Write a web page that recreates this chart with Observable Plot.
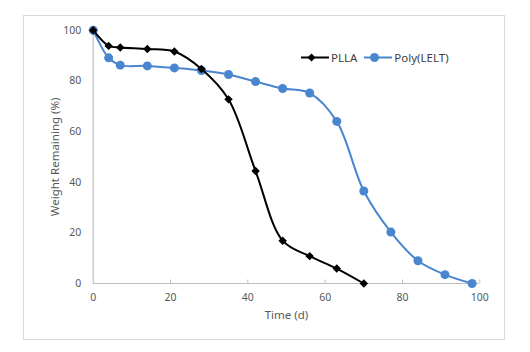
<!DOCTYPE html>
<html>
<head>
<meta charset="utf-8">
<script src="https://cdn.jsdelivr.net/npm/d3@7"></script>
<script src="https://cdn.jsdelivr.net/npm/@observablehq/plot@0.6"></script>
<style>
  html, body { margin: 0; padding: 0; background: #fff; }
  #wrap { position: relative; width: 530px; height: 352px; font-family: "Noto Sans", sans-serif; }
  #border { position: absolute; left: 23px; top: 15px; width: 480px; height: 323px; border: 1px solid #d9d9d9; pointer-events: none; }
  #legend { position: absolute; left: 301px; top: 50px; display: flex; align-items: center; font-size: 11.5px; color: #404040; }
  #legend .item { display: flex; align-items: center; margin-right: 7px; }
  #legend svg { margin-right: 2px; }
</style>
</head>
<body>
<div id="wrap">
  <div id="chart"></div>
  <div id="border"></div>
  <div id="legend"></div>
</div>
<script>
const days = [0, 4, 7, 14, 21, 28, 35, 42, 49, 56, 63, 70, 77, 84, 91, 98];
const pllaDays = [0, 4, 7, 14, 21, 28, 35, 42, 49, 56, 63, 70];
const pllaValues = [100, 93.8, 93.2, 92.6, 91.6, 84.7, 72.7, 44.4, 16.9, 10.8, 5.9, 0];
const lentValues = [100, 89.1, 86.2, 85.9, 85.1, 84.1, 82.5, 79.7, 77.0, 75.2, 64.0, 36.5, 20.3, 9.0, 3.5, 0];
const seriesNames = ["PLLA", "Poly(LELT)"];
const seriesColors = ["#000000", "#4a86cf"];
const xTicks = [0, 20, 40, 60, 80, 100];
const yTicks = [0, 20, 40, 60, 80, 100];

const plla = pllaDays.map((d, i) => ({day: d, value: pllaValues[i]}));
const lelt = days.map((d, i) => ({day: d, value: lentValues[i]}));

const axisColor = "#bfbfbf";
const textColor = "#595959";

const chart = Plot.plot({
  width: 530,
  height: 352,
  marginLeft: 92.7,
  marginRight: 50.7,
  marginTop: 29.7,
  marginBottom: 69,
  style: {fontFamily: "Noto Sans, sans-serif", fontSize: "10.5px", color: textColor, background: "transparent"},
  x: {domain: [0, 100], ticks: xTicks},
  y: {domain: [0, 100], ticks: yTicks},
  marks: [
    Plot.ruleY([0], {stroke: axisColor, strokeWidth: 1.2}),
    Plot.ruleX([0], {stroke: axisColor, strokeWidth: 1.2}),
    Plot.ruleX(xTicks.slice(1), {y1: 0, y2: 1.4, stroke: axisColor}),
    Plot.axisX({ticks: xTicks, tickSize: 0, tickPadding: 10, fill: textColor, fontSize: 10.5,
      label: "Time (d)", labelAnchor: "center", labelArrow: "none", labelOffset: 35}),
    Plot.axisY({ticks: yTicks, tickSize: 0, tickPadding: 12, fill: textColor, fontSize: 10.5,
      label: "Weight Remaining (%)", labelAnchor: "center", labelArrow: "none", labelOffset: 42}),
    Plot.line(lelt, {x: "day", y: "value", stroke: seriesColors[1], strokeWidth: 2, curve: "catmull-rom"}),
    Plot.dot(lelt, {x: "day", y: "value", fill: seriesColors[1], r: 4.5, stroke: "none"}),
    Plot.line(plla, {x: "day", y: "value", stroke: seriesColors[0], strokeWidth: 2, curve: "catmull-rom"}),
    Plot.dot(plla, {x: "day", y: "value", fill: seriesColors[0], symbol: "diamond2", r: 3.8, stroke: "none"})
  ]
});
d3.select(chart).selectAll('g[aria-label="x-axis label"] text, g[aria-label="y-axis label"] text')
  .attr("font-size", "11.5px");
document.getElementById("chart").appendChild(chart);

const legend = document.getElementById("legend");
seriesNames.forEach((name, i) => {
  const item = document.createElement("div");
  item.className = "item";
  const marker = i === 0
    ? `<path d="M10.5,2.5 L14.5,6.5 L10.5,10.5 L6.5,6.5 Z" fill="${seriesColors[i]}"/>`
    : `<circle cx="10.5" cy="6.5" r="4.5" fill="${seriesColors[i]}"/>`;
  item.innerHTML = `<svg width="28" height="13"><line x1="0" y1="6.5" x2="28" y2="6.5" stroke="${seriesColors[i]}" stroke-width="2"/>${marker}</svg><span>${name}</span>`;
  legend.appendChild(item);
});
</script>
</body>
</html>
